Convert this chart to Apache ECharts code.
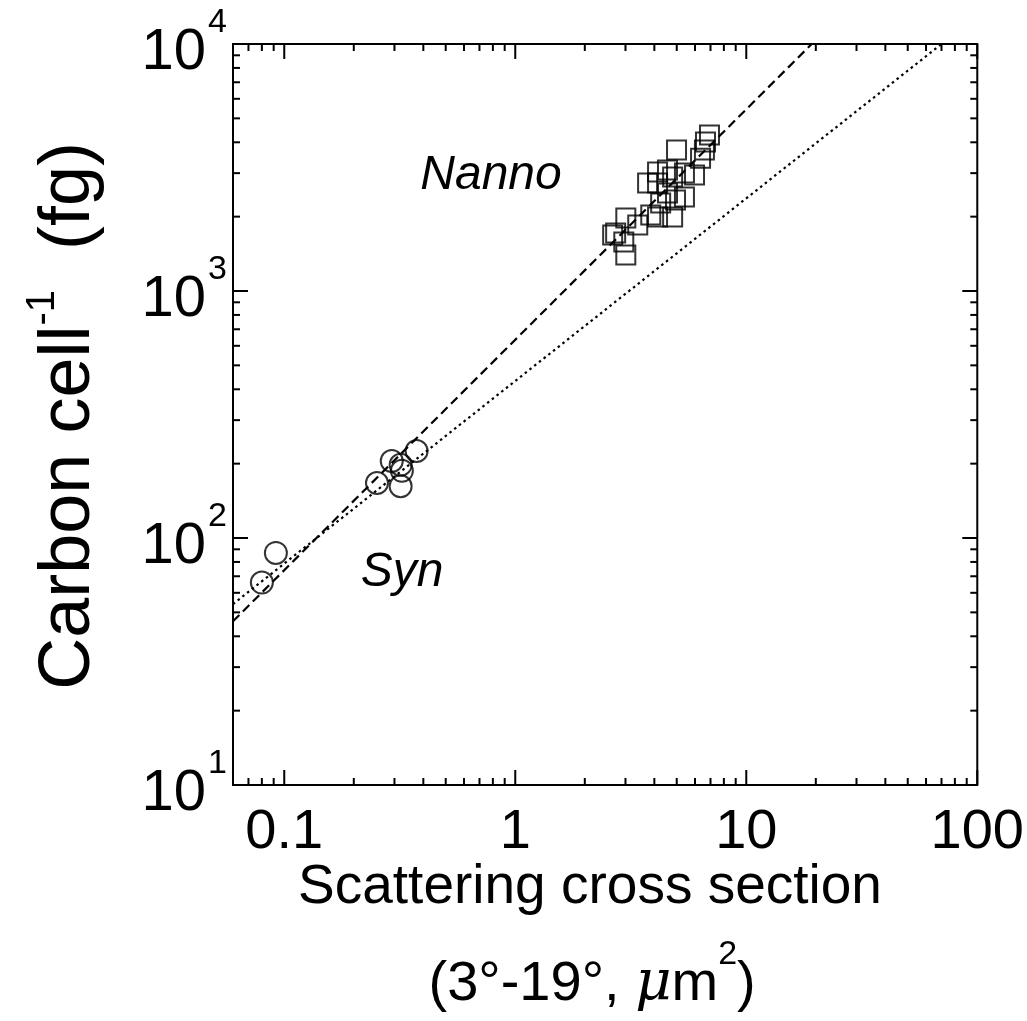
<!DOCTYPE html>
<html><head><meta charset="utf-8">
<script src="https://cdn.jsdelivr.net/npm/echarts@6/dist/echarts.min.js"></script>
<style>html,body{margin:0;padding:0;background:#fff}#c{width:1027px;height:1021px}</style>
</head><body><div id="c"></div>
<script>
// ---- data ----
const synX = [0.080, 0.092, 0.252, 0.292, 0.319, 0.323, 0.319, 0.374];
const synY = [66, 87, 167, 205, 198, 187, 162, 225];
const nannoX = [6.93, 6.66, 6.59, 4.99, 6.34, 5.97, 4.13, 4.56, 4.80, 3.74, 5.40, 4.13, 5.40, 4.56, 4.94, 4.26, 3.86, 4.13, 4.80, 3.39, 3.01, 2.72, 2.64, 3.01, 2.95];
const nannoY = [4285, 4010, 3725, 3725, 3450, 2950, 3034, 3090, 2897, 2735, 3006, 2735, 2404, 2494, 2334, 2270, 2031, 1994, 1994, 1849, 1977, 1717, 1686, 1399, 1578];
const dashedX = [0.06, 19.2];
const dashedY = [46, 10000];
const dottedX = [0.06, 70];
const dottedY = [54, 10000];
const xTickValues = [0.1, 1, 10, 100];
const xTickLabels = ['0.1', '1', '10', '100'];
const yTickValues = [10, 100, 1000, 10000];
const yTickLabels = ['{h| }{b|10}{s|1}', '{h| }{b|10}{s|2}', '{h| }{b|10}{s|3}', '{h| }{b|10}{s|4}'];
const xMinorTicks = [0.07, 0.08, 0.09, 0.2, 0.3, 0.4, 0.5, 0.6, 0.7, 0.8, 0.9, 2, 3, 4, 5, 6, 7, 8, 9, 20, 30, 40, 50, 60, 70, 80, 90];
const yMinorTicks = [20, 30, 40, 50, 60, 70, 80, 90, 200, 300, 400, 500, 600, 700, 800, 900, 2000, 3000, 4000, 5000, 6000, 7000, 8000, 9000];

const FONT = 'Liberation Sans, Arial, Helvetica, sans-serif';
const zip = (a, b) => a.map((v, i) => [v, b[i]]);
function findIdx(vals, v) {
  for (let i = 0; i < vals.length; i++) if (Math.abs(Math.log10(v) - Math.log10(vals[i])) < 1e-6) return i;
  return -1;
}
function tickSeries(values, isX, len) {
  return {
    type: 'custom', silent: true, z: 5, clip: false,
    data: values.map(v => isX ? [v, 100] : [1, v]),
    renderItem: (params, api) => {
      const cs = params.coordSys;
      const p = api.coord([api.value(0), api.value(1)]);
      const st = { stroke: '#000', lineWidth: 2 };
      if (isX) return { type: 'group', children: [
        { type: 'line', shape: { x1: p[0], y1: cs.y + cs.height, x2: p[0], y2: cs.y + cs.height - len }, style: st },
        { type: 'line', shape: { x1: p[0], y1: cs.y, x2: p[0], y2: cs.y + len }, style: st }
      ] };
      return { type: 'group', children: [
        { type: 'line', shape: { x1: cs.x, y1: p[1], x2: cs.x + len, y2: p[1] }, style: st },
        { type: 'line', shape: { x1: cs.x + cs.width, y1: p[1], x2: cs.x + cs.width - len, y2: p[1] }, style: st }
      ] };
    }
  };
}

const chart = echarts.init(document.getElementById('c'), null, { renderer: 'canvas' });
chart.setOption({
  backgroundColor: '#fff',
  animation: false,
  grid: { left: 233, right: 46, top: 44, bottom: 236, show: true, borderColor: '#000', borderWidth: 2, backgroundColor: 'transparent' },
  xAxis: {
    type: 'log', logBase: 10, min: 0.06, max: 100,
    axisLine: { show: false }, axisTick: { show: false }, splitLine: { show: false }, minorTick: { show: false },
    axisLabel: {
      margin: 20, color: '#000', fontSize: 56, fontFamily: FONT, showMinLabel: true, showMaxLabel: true,
      formatter: v => { const i = findIdx(xTickValues, v); return i < 0 ? '' : xTickLabels[i]; }
    }
  },
  yAxis: {
    type: 'log', logBase: 10, min: 10, max: 10000,
    axisLine: { show: false }, axisTick: { show: false }, splitLine: { show: false }, minorTick: { show: false },
    axisLabel: {
      margin: 6, color: '#000', fontFamily: FONT,
      formatter: v => { const i = findIdx(yTickValues, v); return i < 0 ? '' : yTickLabels[i]; },
      rich: {
        h: { fontSize: 1, lineHeight: 76 },
        b: { fontSize: 58, fontFamily: FONT, color: '#000', lineHeight: 60, verticalAlign: 'bottom' },
        s: { fontSize: 34, fontFamily: FONT, color: '#000', verticalAlign: 'top', lineHeight: 34, padding: [0, 0, 0, 2] }
      }
    }
  },
  series: [
    tickSeries(xTickValues, true, 15),
    tickSeries(xMinorTicks, true, 7),
    tickSeries(yTickValues, false, 15),
    tickSeries(yMinorTicks, false, 7),
    { type: 'line', data: zip(dashedX, dashedY), symbol: 'none', silent: true, z: 3,
      lineStyle: { color: '#000', width: 2.2, type: [9, 5] } },
    { type: 'line', data: zip(dottedX, dottedY), symbol: 'none', silent: true, z: 3,
      lineStyle: { color: '#000', width: 2.2, type: [2.5, 3.5] } },
    { type: 'scatter', data: zip(synX, synY), symbol: 'circle', symbolSize: 22, z: 4,
      itemStyle: { color: 'rgba(0,0,0,0)', borderColor: '#000', borderWidth: 2 } },
    { type: 'scatter', data: zip(nannoX, nannoY), symbol: 'rect', symbolSize: 19, z: 4,
      itemStyle: { color: 'rgba(0,0,0,0)', borderColor: '#000', borderWidth: 2 } }
  ],
  graphic: [
    { type: 'text', x: 491, y: 176, style: { text: 'Nanno', fontSize: 48, fontStyle: 'italic', fontFamily: FONT, fill: '#000', textAlign: 'center', textVerticalAlign: 'middle' } },
    { type: 'text', x: 402, y: 573, style: { text: 'Syn', fontSize: 48, fontStyle: 'italic', fontFamily: FONT, fill: '#000', textAlign: 'center', textVerticalAlign: 'middle' } },
    { type: 'text', x: 590, y: 888, style: { text: 'Scattering cross section', fontSize: 55, fontFamily: FONT, fill: '#000', textAlign: 'center', textVerticalAlign: 'middle' } },
    { type: 'text', x: 592, y: 975, style: {
      text: '{h| }{a|(3°-19°, }{mu|μ}{a|m}{s|2}{a|)}', textAlign: 'center', textVerticalAlign: 'middle',
      rich: {
        h: { fontSize: 1, lineHeight: 75 },
        a: { fontSize: 56, fontFamily: FONT, color: '#000', lineHeight: 60, verticalAlign: 'bottom' },
        mu: { fontSize: 56, fontFamily: 'DejaVu Serif, serif', fontStyle: 'italic', color: '#000', lineHeight: 60, verticalAlign: 'bottom' },
        s: { fontSize: 34, fontFamily: FONT, color: '#000', verticalAlign: 'top', lineHeight: 34 }
      } } },
    { type: 'text', x: 64, y: 416, rotation: Math.PI / 2, style: {
      text: '{h| }{a|Carbon cell}{s|-1}{a|  (fg)}', textAlign: 'center', textVerticalAlign: 'middle',
      rich: {
        h: { fontSize: 1, lineHeight: 82 },
        a: { fontSize: 72, fontFamily: FONT, color: '#000', lineHeight: 74, verticalAlign: 'bottom' },
        s: { fontSize: 40, fontFamily: FONT, color: '#000', verticalAlign: 'top', lineHeight: 40 }
      } } }
  ]
});
</script>
</body></html>
